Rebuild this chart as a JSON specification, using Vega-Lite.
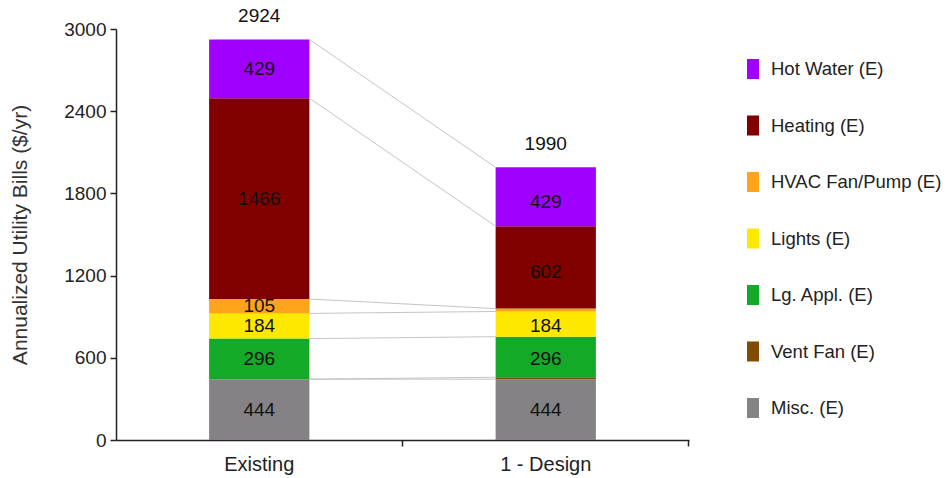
{
  "$schema": "https://vega.github.io/schema/vega-lite/v6.json",
  "width": 573,
  "height": 411,
  "autosize": {"type": "none"},
  "padding": {"left": 116, "top": 29, "right": 257, "bottom": 38},
  "background": "white",
  "config": {
    "view": {"stroke": null},
    "font": "Liberation Sans",
    "axis": {"domainColor": "#222", "tickColor": "#222", "labelColor": "#222", "titleColor": "#333", "labelFont": "Liberation Sans", "titleFont": "Liberation Sans", "grid": false}
  },
  "datasets": {
    "bills": [
      {"scenario": "Existing", "cat": "Misc. (E)", "ord": 1, "value": 444},
      {"scenario": "Existing", "cat": "Vent Fan (E)", "ord": 2, "value": 0},
      {"scenario": "Existing", "cat": "Lg. Appl. (E)", "ord": 3, "value": 296},
      {"scenario": "Existing", "cat": "Lights (E)", "ord": 4, "value": 184},
      {"scenario": "Existing", "cat": "HVAC Fan/Pump (E)", "ord": 5, "value": 105},
      {"scenario": "Existing", "cat": "Heating (E)", "ord": 6, "value": 1466},
      {"scenario": "Existing", "cat": "Hot Water (E)", "ord": 7, "value": 429},
      {"scenario": "1 - Design", "cat": "Misc. (E)", "ord": 1, "value": 444},
      {"scenario": "1 - Design", "cat": "Vent Fan (E)", "ord": 2, "value": 14},
      {"scenario": "1 - Design", "cat": "Lg. Appl. (E)", "ord": 3, "value": 296},
      {"scenario": "1 - Design", "cat": "Lights (E)", "ord": 4, "value": 184},
      {"scenario": "1 - Design", "cat": "HVAC Fan/Pump (E)", "ord": 5, "value": 21},
      {"scenario": "1 - Design", "cat": "Heating (E)", "ord": 6, "value": 602},
      {"scenario": "1 - Design", "cat": "Hot Water (E)", "ord": 7, "value": 429}
    ],
    "links": [
      {"from": "Existing", "to": "1 - Design", "y_from": 444, "y_to": 444},
      {"from": "Existing", "to": "1 - Design", "y_from": 444, "y_to": 458},
      {"from": "Existing", "to": "1 - Design", "y_from": 740, "y_to": 754},
      {"from": "Existing", "to": "1 - Design", "y_from": 924, "y_to": 938},
      {"from": "Existing", "to": "1 - Design", "y_from": 1029, "y_to": 959},
      {"from": "Existing", "to": "1 - Design", "y_from": 2495, "y_to": 1561},
      {"from": "Existing", "to": "1 - Design", "y_from": 2924, "y_to": 1990}
    ]
  },
  "layer": [
    {
      "data": {"name": "bills"},
      "mark": {"type": "bar"},
      "encoding": {
        "x": {
          "field": "scenario", "type": "nominal",
          "scale": {"domain": ["Existing", "1 - Design"], "paddingInner": 0.65, "paddingOuter": 0.325},
          "axis": {"title": null, "labelAngle": 0, "labelFontSize": 20, "labelPadding": 8, "ticks": true, "bandPosition": 1.928, "tickExtra": false, "tickSize": 6, "domainWidth": 1.5, "tickWidth": 1.5}
        },
        "y": {
          "field": "value", "type": "quantitative", "stack": "zero",
          "scale": {"domain": [0, 3000], "nice": false},
          "axis": {"title": "Annualized Utility Bills ($/yr)", "titleFontSize": 21, "titleFontWeight": "normal", "titlePadding": 33, "values": [0, 600, 1200, 1800, 2400, 3000], "format": "d", "labelFontSize": 19, "tickSize": 6, "labelPadding": 4, "domainWidth": 1.5, "tickWidth": 1.5}
        },
        "order": {"field": "ord", "type": "quantitative", "sort": "ascending"},
        "color": {
          "field": "cat", "type": "nominal",
          "scale": {
            "domain": ["Hot Water (E)", "Heating (E)", "HVAC Fan/Pump (E)", "Lights (E)", "Lg. Appl. (E)", "Vent Fan (E)", "Misc. (E)"],
            "range": ["#A000FF", "#800000", "#FFA31A", "#FFE800", "#14AA28", "#804D00", "#848284"]
          },
          "legend": {
            "title": null, "orient": "none", "legendX": 627, "legendY": 30, "direction": "vertical",
            "symbolType": "M-0.6,-1H0.6V1H-0.6Z", "symbolSize": 400, "symbolStrokeWidth": 0,
            "labelFontSize": 18.5, "labelColor": "#222", "labelFont": "Liberation Sans", "labelOffset": 8, "labelLimit": 400, "rowPadding": 36.5
          }
        }
      }
    },
    {
      "data": {"name": "links"},
      "mark": {"type": "rule", "color": "#c4c4c4", "strokeWidth": 1},
      "encoding": {
        "x": {"field": "from", "type": "nominal", "bandPosition": 1},
        "x2": {"field": "to", "bandPosition": 0},
        "y": {"field": "y_from", "type": "quantitative"},
        "y2": {"field": "y_to"}
      }
    },
    {
      "data": {"name": "bills"},
      "transform": [{"filter": "datum.value >= 100"}],
      "mark": {"type": "text", "fontSize": 19, "color": "#111", "baseline": "middle"},
      "encoding": {
        "x": {"field": "scenario", "type": "nominal"},
        "y": {"field": "value", "type": "quantitative", "stack": "zero", "bandPosition": 0.5},
        "order": {"field": "ord", "type": "quantitative", "sort": "ascending"},
        "detail": {"field": "cat"},
        "text": {"field": "value", "type": "quantitative"}
      }
    },
    {
      "data": {"name": "bills"},
      "transform": [{"aggregate": [{"op": "sum", "field": "value", "as": "total"}], "groupby": ["scenario"]}],
      "mark": {"type": "text", "fontSize": 19, "color": "#111", "baseline": "middle", "dy": -23},
      "encoding": {
        "x": {"field": "scenario", "type": "nominal"},
        "y": {"field": "total", "type": "quantitative"},
        "text": {"field": "total", "type": "quantitative"}
      }
    }
  ]
}
